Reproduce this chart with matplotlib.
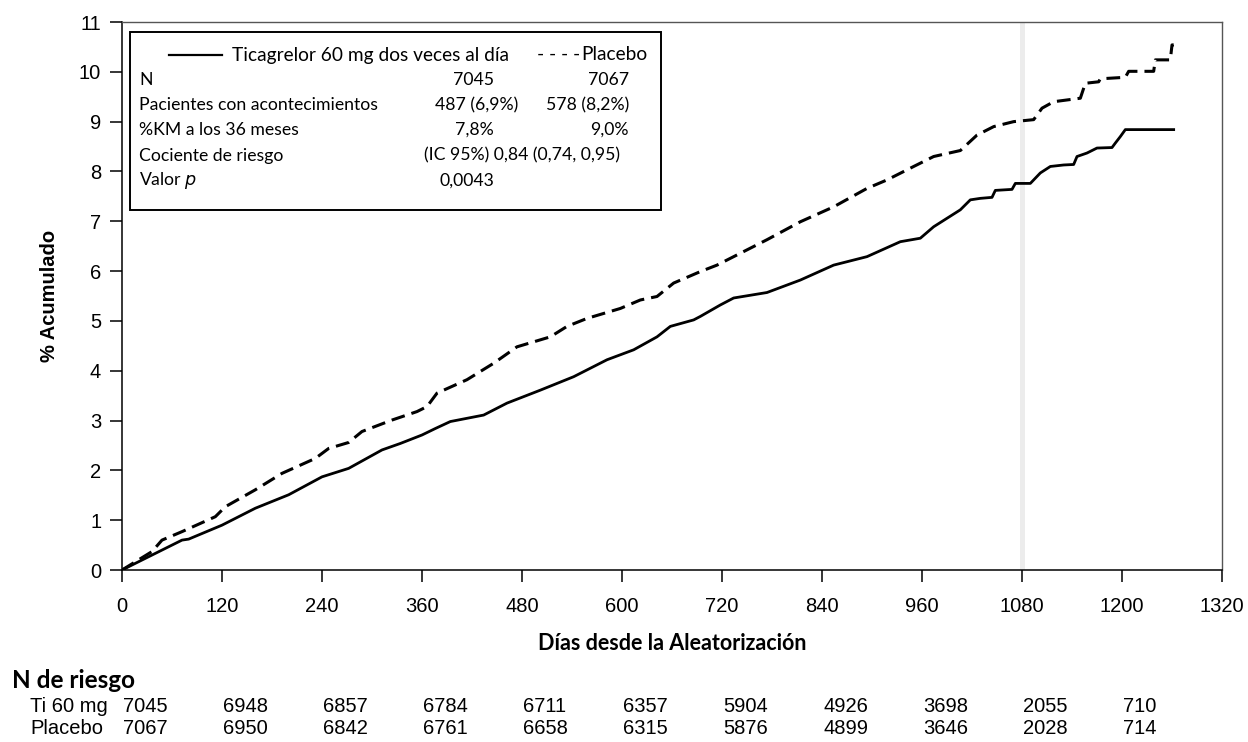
import numpy as np
import matplotlib
matplotlib.use('Agg')
import matplotlib.pyplot as plt
from matplotlib.patches import Rectangle
from matplotlib.lines import Line2D
from matplotlib import transforms

# curvas de Kaplan-Meier (día, % acumulado)
tica_days = [0, 36, 72, 80, 120, 160, 200, 240, 272, 312, 334, 360, 376, 394, 434, 462,
             502, 542, 582, 614, 642, 658, 686, 694, 718, 734, 774, 814, 854, 894, 934,
             958, 974, 1006, 1018, 1030, 1044, 1048, 1068, 1072, 1090, 1102, 1114, 1130,
             1142, 1146, 1158, 1170, 1188, 1192, 1198, 1204, 1262]
tica_vals = [0, 0.30, 0.60, 0.62, 0.90, 1.24, 1.51, 1.87, 2.04, 2.41, 2.54, 2.71, 2.84, 2.98,
             3.11, 3.35, 3.61, 3.88, 4.22, 4.42, 4.68, 4.89, 5.02, 5.09, 5.32, 5.46, 5.57,
             5.82, 6.12, 6.29, 6.59, 6.66, 6.89, 7.23, 7.43, 7.46, 7.48, 7.62, 7.64, 7.76,
             7.76, 7.97, 8.10, 8.13, 8.14, 8.30, 8.37, 8.47, 8.48, 8.57, 8.70, 8.84, 8.84]

plac_days = [0, 36, 48, 72, 112, 124, 160, 192, 232, 248, 272, 288, 324, 354, 366, 378, 414,
             446, 474, 514, 534, 558, 598, 622, 642, 662, 694, 714, 734, 774, 814, 854, 894,
             918, 950, 974, 1006, 1026, 1046, 1070, 1094, 1104, 1118, 1150, 1156, 1172, 1174,
             1204, 1208, 1238, 1240, 1258, 1260, 1262]
plac_vals = [0, 0.37, 0.60, 0.77, 1.07, 1.27, 1.61, 1.94, 2.24, 2.44, 2.56, 2.78, 3.01, 3.18,
             3.28, 3.55, 3.82, 4.15, 4.48, 4.68, 4.89, 5.05, 5.25, 5.42, 5.49, 5.76, 5.99,
             6.12, 6.29, 6.63, 6.99, 7.29, 7.66, 7.83, 8.10, 8.30, 8.42, 8.73, 8.90, 9.00,
             9.04, 9.27, 9.40, 9.47, 9.77, 9.80, 9.86, 9.89, 10.01, 10.01, 10.24, 10.24,
             10.54, 10.54]

# N de riesgo
risk_days = [0, 120, 240, 360, 480, 600, 720, 840, 960, 1080, 1200]
risk_ti = [7045, 6948, 6857, 6784, 6711, 6357, 5904, 4926, 3698, 2055, 710]
risk_pl = [7067, 6950, 6842, 6761, 6658, 6315, 5876, 4899, 3646, 2028, 714]

x_ticks = list(range(0, 1321, 120))
y_ticks = list(range(0, 12))

cal = ['Lato', 'DejaVu Sans']
arial = ['Liberation Sans', 'DejaVu Sans']

fig = plt.figure(figsize=(12.48, 7.42), dpi=100)
ax = fig.add_axes([122 / 1248, 1 - 570 / 742, 1100 / 1248, 548 / 742])

ax.axvspan(1078, 1083, color='#ececec', zorder=0, lw=0)
ax.plot(tica_days, tica_vals, color='black', lw=2.0)
ax.plot(plac_days, plac_vals, color='black', lw=2.2, dashes=(4.5, 2.3))

ax.set_xlim(0, 1320)
ax.set_ylim(0, 11)
ax.set_xticks(x_ticks)
ax.set_yticks(y_ticks)
ax.tick_params(direction='out', length=8.5, width=1.1, labelsize=14.5)
ax.tick_params(axis='x', pad=11)
ax.tick_params(axis='y', pad=6.5)
for lab in ax.get_xticklabels() + ax.get_yticklabels():
    lab.set_family(arial)
for s in ['left', 'bottom']:
    ax.spines[s].set_linewidth(1.1)
for s in ['top', 'right']:
    ax.spines[s].set_linewidth(1.0)
    ax.spines[s].set_color('#555555')

ax.set_ylabel('% Acumulado', fontsize=14.5, fontweight='bold', family=arial, labelpad=14)
ax.set_xlabel('Días desde la Aleatorización', fontsize=15.5, fontweight='bold', family=cal, labelpad=12)

# caja de leyenda (posiciones en píxeles de la figura)
def px(xp, yp):
    return ((xp - 122) / 1100, (570 - yp) / 548)

x0, y0 = px(130, 210)
x1, y1 = px(661, 32)
ax.add_patch(Rectangle((x0, y0), x1 - x0, y1 - y0, transform=ax.transAxes,
                       fill=False, ec='black', lw=1.4, zorder=5))
la, ya = px(169, 55)
lb, _ = px(222, 55)
ax.add_line(Line2D([la, lb], [ya, ya], transform=ax.transAxes, color='black', lw=1.6))

def txt(xp, yp, s, ha='left', fs=12.7):
    xa, ya = px(xp, yp)
    ax.text(xa, ya, s, transform=ax.transAxes, ha=ha, va='center', fontsize=fs,
            family=cal)

txt(232, 55, 'Ticagrelor 60 mg dos veces al día', fs=13.8)
txt(537, 55, '- - - -', fs=13.8)
txt(581, 55, 'Placebo', fs=13.8)
rows = [80, 105, 130, 155.5, 180.5]
txt(139, rows[0], 'N')
txt(494, rows[0], '7045', ha='right')
txt(629, rows[0], '7067', ha='right')
txt(139, rows[1], 'Pacientes con acontecimientos')
txt(518, rows[1], '487 (6,9%)', ha='right')
txt(629, rows[1], '578 (8,2%)', ha='right')
txt(139, rows[2], '%KM a los 36 meses')
txt(494, rows[2], '7,8%', ha='right')
txt(629, rows[2], '9,0%', ha='right')
txt(139, rows[3], 'Cociente de riesgo')
txt(424, rows[3], '(IC 95%) 0,84 (0,74, 0,95)')
txt(139, rows[4], 'Valor $\\it{p}$')
txt(494, rows[4], '0,0043', ha='right')

# tabla N de riesgo
fig.text(12 / 1248, 1 - 681 / 742, 'N de riesgo', fontsize=17.5, fontweight='bold',
         family=cal, va='center', ha='left')
fig.text(30 / 1248, 1 - 706 / 742, 'Ti 60 mg', fontsize=14.5, family=arial, va='center')
fig.text(30 / 1248, 1 - 728 / 742, 'Placebo', fontsize=14.5, family=arial, va='center')
trans = transforms.blended_transform_factory(ax.transData, fig.transFigure)
trans = transforms.offset_copy(trans, fig=fig, x=1, y=0, units='dots')
for d, a, b in zip(risk_days, risk_ti, risk_pl):
    fig.text(d, 1 - 706 / 742, str(a), transform=trans, ha='left', va='center',
             fontsize=14.5, family=arial)
    fig.text(d, 1 - 728 / 742, str(b), transform=trans, ha='left', va='center',
             fontsize=14.5, family=arial)

plt.savefig('out.png', dpi=100)
